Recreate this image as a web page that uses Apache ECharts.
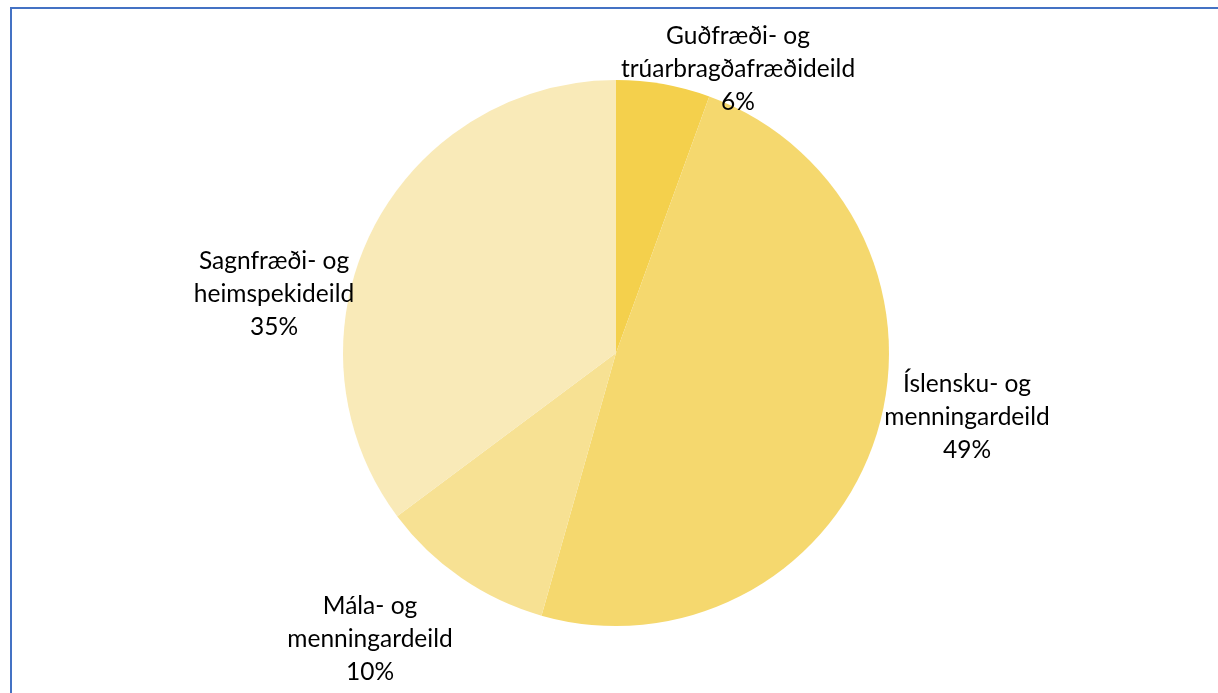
<!DOCTYPE html>
<html>
<head>
<meta charset="utf-8">
<script src="https://cdn.jsdelivr.net/npm/echarts@6/dist/echarts.min.js"></script>
<style>
  html, body { margin: 0; padding: 0; background: #ffffff; }
  #chart { width: 1218px; height: 693px; }
</style>
</head>
<body>
<div id="chart"></div>
<script>
// Faculty names (line-broken as drawn) and their shares of the total
const categories = [
  'Guðfræði- og\ntrúarbragðafræðideild',
  'Íslensku- og\nmenningardeild',
  'Mála- og\nmenningardeild',
  'Sagnfræði- og\nheimspekideild'
];
const values = [5.55, 48.85, 10.4, 35.2];

// Slice fills, one per faculty
const colors = ['#F4D04C', '#F5D86E', '#F7E193', '#F9EAB8'];

// Label block centres, as offsets from the pie centre
const labelOffsets = [
  [122, -284],
  [351, 64],
  [-246, 286],
  [-342, -59]
];

const cx = 616, cy = 353, radius = 273;

const chart = echarts.init(document.getElementById('chart'), null, { renderer: 'canvas' });

chart.setOption({
  animation: false,
  backgroundColor: '#ffffff',
  graphic: [{
    type: 'polyline',
    shape: { points: [[11, 693], [11, 8], [1218, 8]] },
    style: { stroke: '#4472C4', lineWidth: 2, fill: null },
    silent: true
  }],
  series: [{
    type: 'pie',
    center: [cx, cy],
    radius: radius,
    startAngle: 90,
    clockwise: true,
    percentPrecision: 0,
    avoidLabelOverlap: false,
    data: categories.map((name, i) => ({
      name: name,
      value: values[i],
      itemStyle: { color: colors[i] }
    })),
    itemStyle: { borderWidth: 0 },
    label: {
      show: true,
      position: 'outside',
      formatter: '{b}\n{d}%',
      fontFamily: 'Lato, "Liberation Sans", sans-serif',
      fontSize: 24.5,
      lineHeight: 33,
      color: '#000000',
      align: 'center'
    },
    labelLine: { show: false },
    labelLayout: function (params) {
      // place each label by the faculty it names
      let idx = categories.findIndex(c => params.text.indexOf(c) === 0);
      if (idx < 0) idx = params.dataIndex;
      const o = labelOffsets[idx];
      return {
        x: cx + o[0],
        y: cy + o[1],
        align: 'center',
        verticalAlign: 'middle'
      };
    },
    emphasis: { disabled: true }
  }]
});
</script>
</body>
</html>
